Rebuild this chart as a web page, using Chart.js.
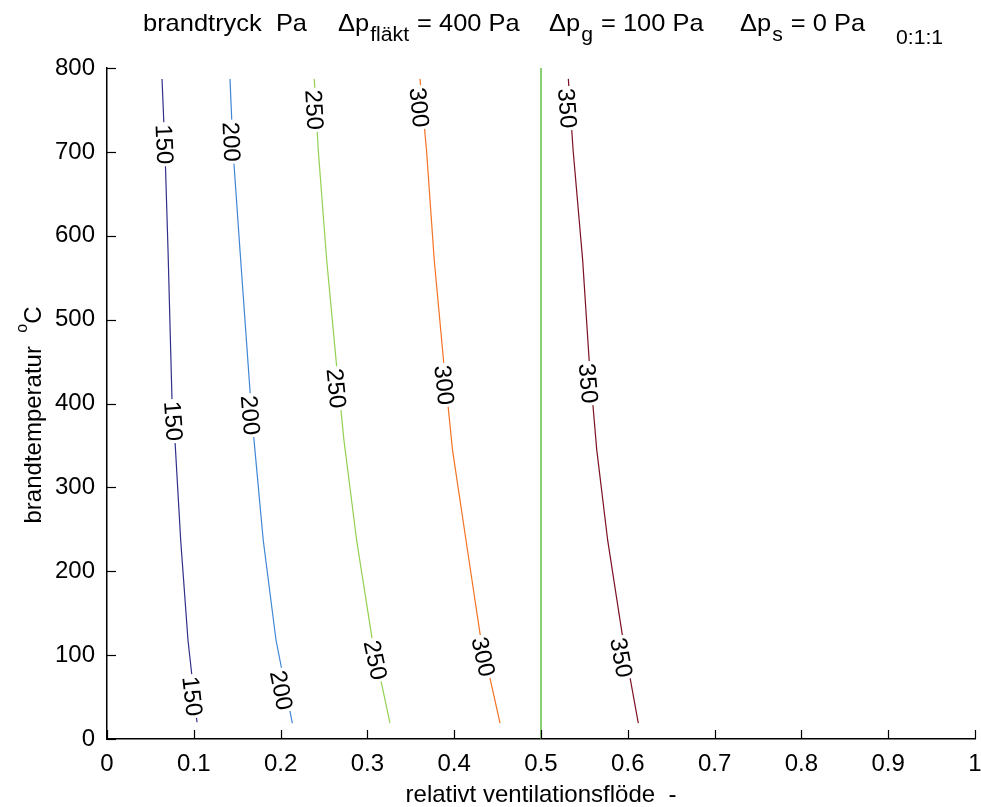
<!DOCTYPE html>
<html lang="en">
<head>
<meta charset="UTF-8">
<title>brandtryck</title>
<script src="https://cdn.jsdelivr.net/npm/chart.js"></script>
<style>
    body, html { margin: 0; padding: 0; background: #fff; overflow: hidden; }
</style>
</head>
<body>
<canvas id="chart" width="981" height="807"></canvas>
<script>
    // contour lines: relative flow (x) vs fire temperature (y)
    const flow150 = [0.0634, 0.0668, 0.0703, 0.0749, 0.0783, 0.0849, 0.0933, 0.1037];
    const temp150 = [787, 702, 583, 404, 356, 237, 118, 20];
    const flow200 = [0.1417, 0.1452, 0.1532, 0.1647, 0.1694, 0.1800, 0.1947, 0.2135];
    const temp200 = [787, 702, 583, 416, 356, 237, 118, 19];
    const flow250 = [0.2388, 0.2434, 0.2531, 0.2646, 0.2730, 0.2876, 0.3057, 0.3260];
    const temp250 = [787, 702, 571, 444, 356, 237, 118, 19];
    const flow300 = [0.3606, 0.3681, 0.3770, 0.3880, 0.3980, 0.4136, 0.4297, 0.4528];
    const temp300 = [787, 702, 571, 448, 345, 237, 126, 19];
    const flow350 = [0.5315, 0.5370, 0.5480, 0.5557, 0.5642, 0.5768, 0.5940, 0.6121];
    const temp350 = [787, 702, 571, 448, 345, 237, 122, 19];

    // vertical reference line at 0.5
    const refFlow = [0.5, 0.5];
    const refTemp = [0, 800];

    const levels = [150, 200, 250, 300, 350];
    const levelColors = ['#30308a', '#3f86d6', '#93d151', '#f47224', '#7c1022'];
    const refColor = '#62bf45';

    // contour label positions (centre of each label)
    const labelFlow = [
        [0.0657, 0.0760, 0.0979],
        [0.1429, 0.1647, 0.2005],
        [0.2385, 0.2638, 0.3088],
        [0.3594, 0.3882, 0.4332],
        [0.5300, 0.5541, 0.5922]
    ];
    const labelTemp = [
        [709, 379, 51],
        [712, 386, 58],
        [750, 418, 94],
        [753, 422, 98],
        [752, 424, 97]
    ];

    const xTicks = [0, 0.1, 0.2, 0.3, 0.4, 0.5, 0.6, 0.7, 0.8, 0.9, 1];
    const yTicks = [0, 100, 200, 300, 400, 500, 600, 700, 800];

    const FONT = 'Liberation Sans, Arial, sans-serif';
    const flows = [flow150, flow200, flow250, flow300, flow350];
    const temps = [temp150, temp200, temp250, temp300, temp350];

    function toPoints(xs, ys) {
        return xs.map((v, i) => ({ x: v, y: ys[i] }));
    }

    const datasets = levels.map((lv, k) => ({
        label: String(lv),
        data: toPoints(flows[k], temps[k]),
        borderColor: levelColors[k],
        borderWidth: 1.2,
        pointRadius: 0,
        tension: 0,
        fill: false
    }));
    datasets.push({
        label: 'ref',
        data: toPoints(refFlow, refTemp),
        borderColor: refColor,
        borderWidth: 1.5,
        pointRadius: 0,
        fill: false
    });

    // labels on the contour lines, with a white gap behind them
    const contourLabels = {
        id: 'contourLabels',
        afterDatasetsDraw(chart) {
            const ctx = chart.ctx;
            const xs = chart.scales.x, ys = chart.scales.y;
            ctx.save();
            ctx.font = '24px ' + FONT;
            ctx.textAlign = 'center';
            ctx.textBaseline = 'middle';
            levels.forEach((lv, k) => {
                const fx = flows[k], ty = temps[k];
                labelFlow[k].forEach((lf, i) => {
                    const lt = labelTemp[k][i];
                    let j = 0;
                    while (j < ty.length - 2 && ty[j + 1] > lt) j++;
                    const x1 = xs.getPixelForValue(fx[j]), y1 = ys.getPixelForValue(ty[j]);
                    const x2 = xs.getPixelForValue(fx[j + 1]), y2 = ys.getPixelForValue(ty[j + 1]);
                    const ang = Math.atan2(y2 - y1, x2 - x1);
                    const px = xs.getPixelForValue(lf), py = ys.getPixelForValue(lt);
                    const txt = String(lv);
                    const w = ctx.measureText(txt).width;
                    ctx.save();
                    ctx.translate(px, py);
                    ctx.rotate(ang);
                    ctx.fillStyle = '#fff';
                    ctx.fillRect(-w / 2 - 2, -11, w + 4, 22);
                    ctx.fillStyle = '#000';
                    ctx.fillText(txt, 0, 1);
                    ctx.restore();
                });
            });

            // inward tick marks
            ctx.strokeStyle = '#000';
            ctx.lineWidth = 1.2;
            const area = chart.chartArea;
            xTicks.forEach(v => {
                const p = Math.round(xs.getPixelForValue(v)) + 0.5;
                ctx.beginPath();
                ctx.moveTo(p, area.bottom);
                ctx.lineTo(p, area.bottom - 9);
                ctx.stroke();
            });
            yTicks.forEach(v => {
                const p = Math.round(ys.getPixelForValue(v)) + 0.5;
                ctx.beginPath();
                ctx.moveTo(area.left, p);
                ctx.lineTo(area.left + 9, p);
                ctx.stroke();
            });
            ctx.restore();
        }
    };

    // title and axis titles with sub/superscripts
    const titles = {
        id: 'titles',
        afterDraw(chart) {
            const ctx = chart.ctx;
            const area = chart.chartArea;
            ctx.save();
            ctx.fillStyle = '#000';
            ctx.textBaseline = 'alphabetic';
            ctx.textAlign = 'left';

            const main = '24px ' + FONT, sub = '20px ' + FONT;
            const stretch = 1.06;
            const base = 31;
            // each group: start x, then runs of [text, font, baseline shift]
            const groups = [
                [143, [['brandtryck  Pa', main, 0]]],
                [338, [['\u0394p', main, 0], ['fläkt', sub, 10], [' = 400 Pa', main, 0]]],
                [549, [['\u0394p', main, 0], ['g', sub, 10], [' = 100 Pa', main, 0]]],
                [740, [['\u0394p', main, 0], ['s', sub, 10], [' = 0 Pa', main, 0]]],
                [896, [['0:1:1', sub, 13]]]
            ];
            groups.forEach(g => {
                let x = g[0];
                g[1].forEach(r => {
                    ctx.font = r[1];
                    ctx.save();
                    ctx.translate(x, base + r[2]);
                    ctx.scale(stretch, 1);
                    ctx.fillText(r[0], 0, 0);
                    ctx.restore();
                    x += ctx.measureText(r[0]).width * stretch + 1;
                });
            });

            // x axis title
            ctx.font = '24px ' + FONT;
            ctx.textAlign = 'center';
            ctx.fillText('relativt ventilationsflöde  -', (area.left + area.right) / 2, 802);

            // y axis title, rotated
            ctx.save();
            ctx.translate(30, 415);
            ctx.rotate(-Math.PI / 2);
            ctx.textAlign = 'left';
            const s1 = 'brandtemperatur  ';
            ctx.font = '24px ' + FONT;
            const w1 = ctx.measureText(s1).width;
            ctx.font = '16px ' + FONT;
            const w2 = ctx.measureText('o').width;
            ctx.font = '24px ' + FONT;
            const w3 = ctx.measureText('C').width;
            let sx = -(w1 + w2 + w3) / 2;
            ctx.fillText(s1, sx, 11);
            sx += w1;
            ctx.font = '16px ' + FONT;
            ctx.fillText('o', sx, -3);
            sx += w2;
            ctx.font = '24px ' + FONT;
            ctx.fillText('C', sx, 11);
            ctx.restore();

            ctx.restore();
        }
    };

    const ctx = document.getElementById('chart').getContext('2d');
    new Chart(ctx, {
        type: 'line',
        data: { datasets: datasets },
        options: {
            responsive: false,
            animation: false,
            devicePixelRatio: 1,
            layout: { padding: { top: 68, right: 6, left: 0, bottom: 0 } },
            plugins: {
                legend: { display: false },
                tooltip: { enabled: false },
                title: { display: false }
            },
            scales: {
                x: {
                    type: 'linear',
                    min: 0,
                    max: 1,
                    afterFit: function(scale) {
                        scale.height = 68;
                        scale.paddingLeft = 0;
                        scale.paddingRight = 0;
                    },
                    afterBuildTicks: function(scale) {
                        scale.ticks = xTicks.map(v => ({ value: v }));
                    },
                    ticks: {
                        font: { family: FONT, size: 24 },
                        color: '#000',
                        padding: 11,
                        maxRotation: 0,
                        autoSkip: false,
                        callback: v => String(Math.round(v * 10) / 10)
                    },
                    grid: { display: false, drawTicks: false },
                    border: { display: true, color: '#000', width: 1.5 }
                },
                y: {
                    type: 'linear',
                    min: 0,
                    max: 800,
                    afterFit: function(scale) {
                        scale.width = 107;
                        scale.paddingTop = 0;
                        scale.paddingBottom = 0;
                    },
                    afterBuildTicks: function(scale) {
                        scale.ticks = yTicks.map(v => ({ value: v }));
                    },
                    ticks: {
                        font: { family: FONT, size: 24 },
                        color: '#000',
                        padding: 12,
                        autoSkip: false
                    },
                    grid: { display: false, drawTicks: false },
                    border: { display: true, color: '#000', width: 1.5 }
                }
            }
        },
        plugins: [contourLabels, titles]
    });
</script>
</body>
</html>
